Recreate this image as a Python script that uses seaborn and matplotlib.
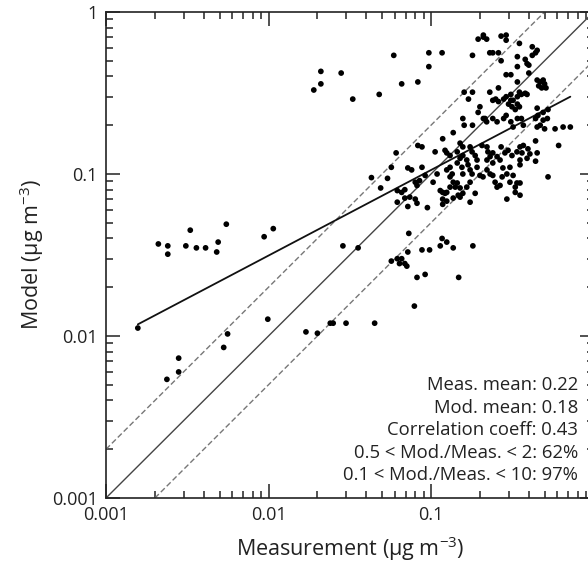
import matplotlib
matplotlib.use("Agg")
import matplotlib.pyplot as plt
import matplotlib.ticker as mticker
import seaborn as sns
import pandas as pd

# ---- data (ug m^-3) ----
meas = [
    0.019, 0.021, 0.021, 0.028, 0.033, 0.048, 0.059, 0.066, 0.083, 0.097,
    0.097, 0.117, 0.18, 0.195, 0.21, 0.21, 0.22, 0.23, 0.24, 0.27,
    0.29, 0.29, 0.26, 0.27, 0.35, 0.34, 0.38, 0.39, 0.40, 0.42,
    0.44, 0.45, 0.42, 0.40, 0.34, 0.29, 0.31, 0.34, 0.45, 0.47,
    0.49, 0.50, 0.46, 0.48, 0.51, 0.16, 0.18, 0.17, 0.23, 0.26,
    0.24, 0.25, 0.26, 0.28, 0.29, 0.31, 0.31, 0.32, 0.34, 0.35,
    0.36, 0.38, 0.39, 0.30, 0.315, 0.34, 0.35, 0.33, 0.20, 0.195,
    0.21, 0.157, 0.16, 0.18, 0.215, 0.22, 0.24, 0.255, 0.28, 0.29,
    0.31, 0.32, 0.34, 0.36, 0.37, 0.45, 0.455, 0.49, 0.52, 0.525,
    0.49, 0.47, 0.45, 0.50, 0.44, 0.58, 0.65, 0.72, 0.61, 0.44,
    0.45, 0.44, 0.137, 0.118, 0.106, 0.083, 0.088, 0.061, 0.054, 0.043,
    0.049, 0.057, 0.062, 0.066, 0.069, 0.062, 0.069, 0.074, 0.072, 0.076,
    0.088, 0.092, 0.080, 0.085, 0.082, 0.080, 0.082, 0.072, 0.095, 0.103,
    0.114, 0.118, 0.122, 0.118, 0.125, 0.109, 0.125, 0.131, 0.135, 0.122,
    0.125, 0.131, 0.145, 0.151, 0.145, 0.157, 0.166, 0.155, 0.169, 0.174,
    0.157, 0.151, 0.157, 0.174, 0.179, 0.187, 0.192, 0.192, 0.206, 0.221,
    0.224, 0.24, 0.231, 0.255, 0.266, 0.24, 0.221, 0.131, 0.137, 0.145,
    0.141, 0.131, 0.125, 0.151, 0.157, 0.166, 0.147, 0.174, 0.118, 0.137,
    0.151, 0.174, 0.179, 0.20, 0.209, 0.221, 0.231, 0.24, 0.248, 0.266,
    0.255, 0.274, 0.293, 0.306, 0.277, 0.27, 0.285, 0.298, 0.315, 0.338,
    0.353, 0.37, 0.363, 0.353, 0.353, 0.395, 0.406, 0.39, 0.306, 0.33,
    0.338, 0.353, 0.32, 0.293, 0.353, 0.33, 0.525, 0.187, 0.073, 0.117,
    0.125, 0.114, 0.088, 0.098, 0.137, 0.181, 0.0287, 0.0356, 0.072, 0.057,
    0.062, 0.066, 0.069, 0.071, 0.064, 0.082, 0.092, 0.148, 0.017, 0.020,
    0.024, 0.025, 0.030, 0.045, 0.079, 0.00157, 0.00237, 0.0028, 0.0028, 0.0053,
    0.0056, 0.0099, 0.0021, 0.0024, 0.0024, 0.0031, 0.0033, 0.0036, 0.0041, 0.0048,
    0.0049, 0.0055, 0.0094, 0.0107,
]
model = [
    0.33, 0.43, 0.36, 0.42, 0.29, 0.31, 0.54, 0.36, 0.37, 0.56,
    0.46, 0.56, 0.54, 0.68, 0.72, 0.70, 0.68, 0.56, 0.56, 0.71,
    0.72, 0.67, 0.56, 0.50, 0.64, 0.53, 0.51, 0.48, 0.47, 0.61,
    0.56, 0.58, 0.54, 0.42, 0.46, 0.41, 0.41, 0.37, 0.38, 0.37,
    0.38, 0.36, 0.35, 0.34, 0.34, 0.32, 0.32, 0.29, 0.32, 0.34,
    0.285, 0.29, 0.28, 0.29, 0.30, 0.31, 0.285, 0.285, 0.30, 0.32,
    0.31, 0.315, 0.31, 0.27, 0.26, 0.27, 0.26, 0.25, 0.26, 0.24,
    0.22, 0.22, 0.20, 0.20, 0.22, 0.21, 0.22, 0.21, 0.22, 0.23,
    0.21, 0.195, 0.22, 0.22, 0.20, 0.255, 0.23, 0.24, 0.22, 0.25,
    0.215, 0.20, 0.195, 0.19, 0.22, 0.19, 0.195, 0.195, 0.15, 0.16,
    0.135, 0.12, 0.18, 0.165, 0.137, 0.15, 0.147, 0.135, 0.094, 0.095,
    0.082, 0.11, 0.079, 0.077, 0.080, 0.067, 0.071, 0.072, 0.109, 0.106,
    0.11, 0.098, 0.089, 0.091, 0.085, 0.070, 0.066, 0.063, 0.062, 0.089,
    0.079, 0.077, 0.076, 0.070, 0.068, 0.10, 0.106, 0.11, 0.10, 0.14,
    0.135, 0.13, 0.137, 0.125, 0.117, 0.13, 0.122, 0.11, 0.114, 0.106,
    0.10, 0.155, 0.147, 0.147, 0.137, 0.13, 0.122, 0.11, 0.15, 0.147,
    0.137, 0.135, 0.128, 0.128, 0.122, 0.117, 0.122, 0.096, 0.089, 0.088,
    0.083, 0.083, 0.077, 0.082, 0.076, 0.083, 0.074, 0.089, 0.065, 0.071,
    0.072, 0.067, 0.10, 0.098, 0.096, 0.106, 0.10, 0.098, 0.089, 0.085,
    0.083, 0.096, 0.10, 0.11, 0.109, 0.147, 0.135, 0.14, 0.13, 0.137,
    0.147, 0.15, 0.135, 0.122, 0.114, 0.143, 0.133, 0.125, 0.089, 0.083,
    0.088, 0.088, 0.098, 0.070, 0.074, 0.077, 0.096, 0.076, 0.043, 0.040,
    0.038, 0.036, 0.034, 0.034, 0.035, 0.036, 0.036, 0.035, 0.033, 0.029,
    0.030, 0.030, 0.028, 0.027, 0.028, 0.023, 0.024, 0.023, 0.0106, 0.0104,
    0.012, 0.012, 0.012, 0.012, 0.0153, 0.0112, 0.0054, 0.0060, 0.0073, 0.0085,
    0.0103, 0.0127, 0.037, 0.036, 0.032, 0.036, 0.045, 0.035, 0.035, 0.033,
    0.038, 0.049, 0.041, 0.046,
]

# reference lines and regression fit (endpoints)
one_x, one_y = [0.001, 1.0], [0.001, 1.0]
up_x, up_y = [0.001, 0.5], [0.002, 1.0]
lo_x, lo_y = [0.002, 1.0], [0.001, 0.5]
fit_x, fit_y = [0.00157, 0.72], [0.0118, 0.30]

stats_lines = [
    "Meas. mean: 0.22",
    "Mod. mean: 0.18",
    "Correlation coeff: 0.43",
    "0.5 < Mod./Meas. < 2: 62%",
    "0.1 < Mod./Meas. < 10: 97%",
]
tick_vals = [0.001, 0.01, 0.1, 1]
y_tick_labels = ["0.001", "0.01", "0.1", "1"]
x_tick_labels = ["0.001", "0.01", "0.1", ""]  # the "1" falls outside the cropped figure

# ---- style ----
sns.set_style("ticks")
FONT = "Open Sans"
plt.rcParams["font.family"] = [FONT, "DejaVu Sans"]
plt.rcParams["mathtext.fontset"] = "custom"
plt.rcParams["mathtext.rm"] = FONT
plt.rcParams["mathtext.it"] = FONT
plt.rcParams["mathtext.default"] = "regular"

fig = plt.figure(figsize=(5.88, 5.62), dpi=100)
ax = fig.add_axes([106 / 588, 64 / 562, 487.5 / 588, 486 / 562])

df = pd.DataFrame({"meas": meas, "model": model})

sns.lineplot(x=one_x, y=one_y, ax=ax, color="#444444", lw=1.0, estimator=None, sort=False)
for xs, ys in ((up_x, up_y), (lo_x, lo_y)):
    sns.lineplot(x=xs, y=ys, ax=ax, color="#777777", lw=1.0, estimator=None, sort=False,
                 linestyle=(0, (4, 2)))
sns.lineplot(x=fit_x, y=fit_y, ax=ax, color="#111111", lw=1.3, estimator=None, sort=False)
sns.scatterplot(data=df, x="meas", y="model", ax=ax, color="black", s=17,
                marker="o", edgecolor="none", linewidth=0, zorder=5)

ax.set_xscale("log")
ax.set_yscale("log")
ax.set_xlim(0.001, 1)
ax.set_ylim(0.001, 1)

ax.xaxis.set_major_locator(mticker.FixedLocator(tick_vals))
ax.yaxis.set_major_locator(mticker.FixedLocator(tick_vals))
ax.set_xticklabels(x_tick_labels)
ax.set_yticklabels(y_tick_labels)
ax.xaxis.set_minor_locator(mticker.LogLocator(base=10, subs=range(2, 10)))
ax.yaxis.set_minor_locator(mticker.LogLocator(base=10, subs=range(2, 10)))
ax.xaxis.set_minor_formatter(mticker.NullFormatter())
ax.yaxis.set_minor_formatter(mticker.NullFormatter())

ax.tick_params(which="both", direction="in", top=True, right=True, colors="#222222",
               width=1.1, labelsize=13)
ax.tick_params(which="major", length=10, pad=6)
ax.tick_params(which="minor", length=5)
for sp in ax.spines.values():
    sp.set_linewidth(1.2)
    sp.set_color("#222222")

ax.set_xlabel("Measurement (μg m$^{-3}$)", fontsize=15.5, color="#222222", labelpad=7)
ax.set_ylabel("Model (μg m$^{-3}$)", fontsize=15.5, color="#222222", labelpad=4)

ys_frac = [0.222, 0.175, 0.130, 0.0823, 0.037]
for txt, yf in zip(stats_lines, ys_frac):
    ax.text(0.968, yf, txt, transform=ax.transAxes, ha="right", va="baseline",
            fontsize=13.3, color="#222222")

fig.savefig("out.png", dpi=100)
